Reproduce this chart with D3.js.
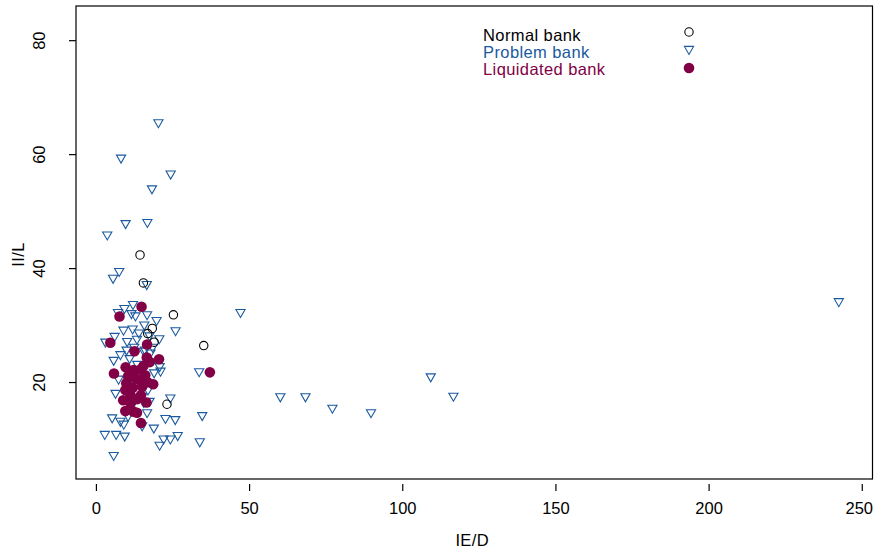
<!DOCTYPE html>
<html><head><meta charset="utf-8">
<script src="https://cdn.jsdelivr.net/npm/d3@7"></script>
<style>body{margin:0;background:#fff}svg{display:block;font-family:"Liberation Sans",Arial,sans-serif}svg text{letter-spacing:0.4px}svg .tick text{letter-spacing:0}</style>
</head><body>
<svg id="c" width="874" height="554"></svg>
<script>
// Data: [IE/D, II/L]
const normalBanks = [
  [14.4,42.3],[15.5,37.4],[25.3,31.8],[18.4,29.4],[16.9,28.5],[19.0,27.0],[35.2,26.4],[23.2,16.1]
];
const problemBanks = [
  [20.4,65.4],[8.2,59.2],[24.4,56.4],[18.3,53.8],[9.7,47.7],[16.8,47.9],[3.7,45.7],[7.6,39.3],[5.6,38.1],
  [16.6,37.0],[47.2,32.1],
  [9.3,32.8],[12.1,33.5],[7.2,32.1],[11.6,31.9],[12.9,31.5],[16.7,31.7],[19.8,30.7],[26.0,28.9],
  [12.0,29.2],[15.8,29.9],[20.7,27.5],[6.1,27.9],[3.1,26.9],[10.2,27.0],[13.4,27.4],[8.0,24.7],
  [5.8,23.7],[15.6,25.3],[17.8,25.0],[21.1,21.8],[20.8,22.6],[33.7,21.7],[6.4,17.9],[5.3,13.6],
  [8.0,13.0],[9.1,12.5],[2.9,10.7],[6.6,10.7],[9.4,10.4],[5.8,7.0],[15.1,12.2],[18.9,11.8],
  [22.7,13.5],[25.9,13.3],[34.7,14.0],[22.1,9.9],[24.3,9.9],[20.8,8.8],[26.7,10.5],[33.9,9.4],
  [17.5,16.5],[24.3,17.1],[7.4,20.4],[11.3,20.9],[12.3,16.3],[10.5,13.9],[16.7,14.5],[15.6,16.3],
  [11.0,24.0],[13.5,23.0],[12.5,26.0],[16.0,25.5],[10.0,25.5],[17.5,28.0],[9.0,29.0],[14.0,28.5],
  [18.5,26.0],[19.0,21.5],[13.0,19.5],[11.5,18.3],[15.0,17.3],[10.5,16.5],[17.0,18.5],
  [60.2,17.3],[68.4,17.3],[77.2,15.3],[89.8,14.5],[109.3,20.8],[116.7,17.4],[242.5,34.0]
];
const liquidatedBanks = [
  [14.9,33.2],[7.7,31.5],[4.7,26.9],[16.7,26.6],[12.6,25.4],[20.6,24.0],[16.6,24.3],[17.6,23.5],
  [37.2,21.7],[5.9,21.5],[9.7,22.6],[12.3,22.1],[14.5,22.2],[16.1,21.2],[14.2,20.4],[18.7,19.6],
  [9.9,19.8],[9.6,18.6],[15.1,19.2],[14.7,17.7],[11.3,17.7],[8.9,16.8],[16.5,16.4],[9.6,14.9],
  [13.4,14.6],[12.3,14.8],[14.7,12.8],[11.3,16.3],[13.0,20.6],[15.5,22.8],[10.5,21.0],[12.0,19.0],
  [16.8,20.0],[13.5,17.0]
];
const xTicks = [0,50,100,150,200,250];
const yTicks = [20,40,60,80];
const legendLabels = ["Normal bank","Problem bank","Liquidated bank"];

const BLUE = "#1b5a9e", RED = "#820046";
const FS = 16.5;
const svg = d3.select("#c");
const L = 76, R = 872.5, T = 6, B = 479;
const x = d3.scaleLinear().domain([-6.5, 253.5]).range([L, R]);
const y = d3.scaleLinear().domain([2.98, 86.0]).range([B, T]);

// box
svg.append("rect").attr("x",L).attr("y",T).attr("width",R-L).attr("height",B-T)
  .attr("fill","none").attr("stroke","#000").attr("stroke-width",1.2);

// x axis
const xa = svg.append("g").attr("transform",`translate(0,${B+5})`)
  .call(d3.axisBottom(x).tickValues(xTicks).tickSize(7).tickPadding(11).tickFormat(d3.format("d")));
xa.select(".domain").remove();
xa.selectAll("line").attr("stroke","#000").attr("stroke-width",1.2);
xa.selectAll("text").attr("font-size",FS).attr("fill","#000").attr("font-family","Liberation Sans, Arial, sans-serif")
  .attr("dx",d=>d===250?-3:0);

// y axis
const ya = svg.append("g").attr("transform",`translate(${L},0)`)
  .call(d3.axisLeft(y).tickValues(yTicks).tickSize(7).tickFormat(d3.format("d")));
ya.select(".domain").remove();
ya.selectAll("line").attr("stroke","#000").attr("stroke-width",1.2);
ya.selectAll("text").attr("font-size",FS).attr("fill","#000").attr("font-family","Liberation Sans, Arial, sans-serif")
  .attr("text-anchor","middle").attr("dy",null).attr("x",null)
  .attr("transform","translate(-35,0) rotate(-90)").attr("dominant-baseline","middle");

// axis titles
svg.append("text").attr("x",(L+R)/2-2).attr("y",546).attr("text-anchor","middle")
  .attr("font-size",FS).text("IE/D");
svg.append("text").attr("transform",`translate(20,${(T+B)/2+12}) rotate(-90)`).attr("text-anchor","middle")
  .attr("dominant-baseline","middle").attr("font-size",FS).text("II/L");

const tri = (cx,cy)=>`M${cx-4.6},${cy-3.6}L${cx+4.6},${cy-3.6}L${cx},${cy+4.4}Z`;
const plot = svg.append("g");
plot.selectAll("path.p").data(problemBanks).join("path").attr("class","p")
  .attr("d",d=>tri(x(d[0]),y(d[1]))).attr("fill","none").attr("stroke",BLUE).attr("stroke-width",1.1);
plot.selectAll("circle.n").data(normalBanks).join("circle").attr("class","n")
  .attr("cx",d=>x(d[0])).attr("cy",d=>y(d[1])).attr("r",4.2)
  .attr("fill","none").attr("stroke","#000").attr("stroke-width",1.1);
plot.selectAll("circle.l").data(liquidatedBanks).join("circle").attr("class","l")
  .attr("cx",d=>x(d[0])).attr("cy",d=>y(d[1])).attr("r",5.3).attr("fill",RED);

// legend
const lg = svg.append("g");
const cols = ["#000", BLUE, RED];
legendLabels.forEach((t,i)=>{
  lg.append("text").attr("x",483).attr("y",37+i*17).attr("dominant-baseline","middle")
    .attr("font-size",FS).attr("fill",cols[i]).text(t);
});
lg.append("circle").attr("cx",689).attr("cy",32).attr("r",4.2).attr("fill","none").attr("stroke","#000").attr("stroke-width",1.1);
lg.append("path").attr("d",tri(689,50)).attr("fill","none").attr("stroke",BLUE).attr("stroke-width",1.1);
lg.append("circle").attr("cx",689).attr("cy",68).attr("r",5.3).attr("fill",RED);
</script>
</body></html>
